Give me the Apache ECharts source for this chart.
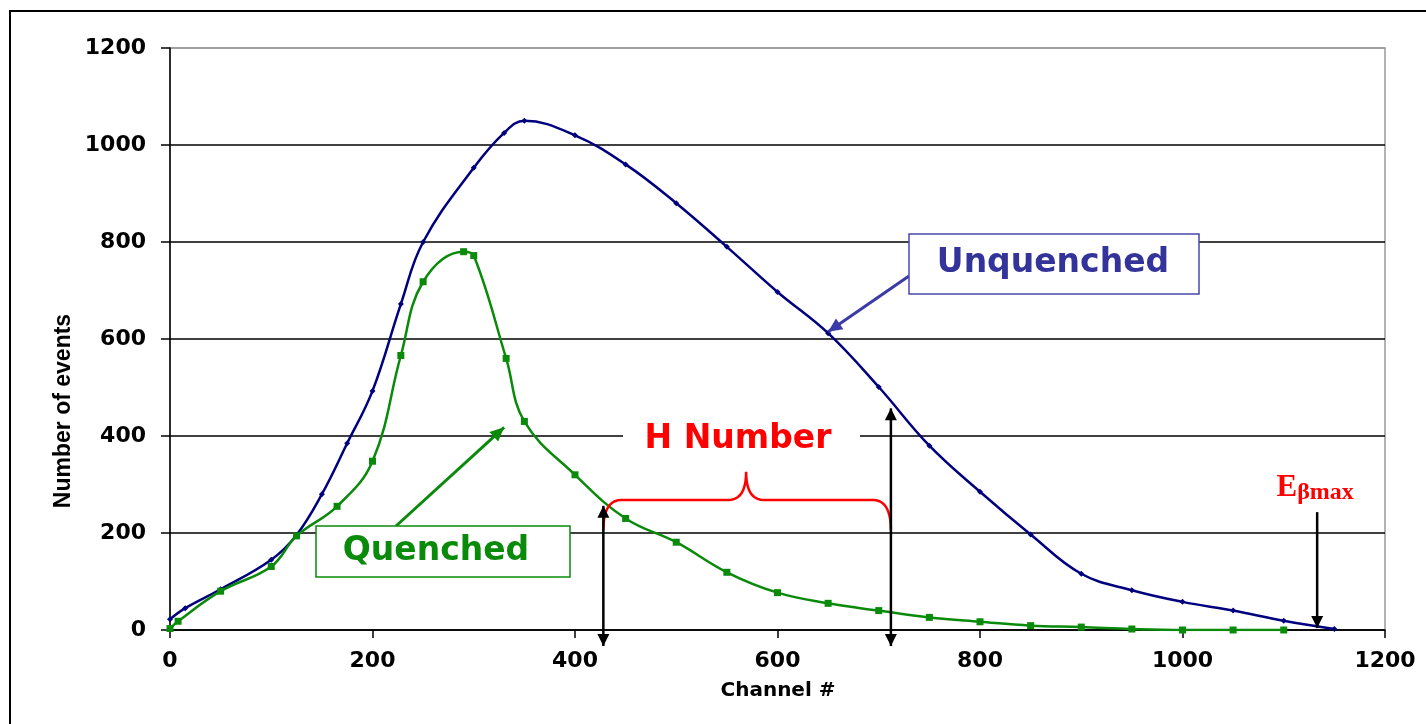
<!DOCTYPE html>
<html>
<head>
<meta charset="utf-8">
<script src="https://cdn.jsdelivr.net/npm/echarts@6/dist/echarts.min.js"></script>
<style>
  html, body { margin: 0; padding: 0; background: #fff; }
  #chart { width: 1426px; height: 724px; }
</style>
</head>
<body>
<div id="chart"></div>
<script>
// Spectrum counts per channel
const unquenchedChannels = [0, 15, 50, 100, 125, 150, 175, 200, 228, 250, 300, 330, 350, 400, 450, 500, 550, 600, 650, 700, 750, 800, 850, 900, 950, 1000, 1050, 1100, 1150];
const unquenchedCounts   = [22, 45, 84, 145, 196, 280, 385, 493, 672, 800, 953, 1025, 1050, 1020, 960, 880, 790, 697, 612, 501, 380, 285, 197, 116, 82, 58, 40, 19, 2];

const quenchedChannels = [0, 8, 50, 100, 125, 165, 200, 228, 250, 290, 300, 332, 350, 400, 450, 500, 550, 600, 650, 700, 750, 800, 850, 900, 950, 1000, 1050, 1100];
const quenchedCounts   = [3, 18, 80, 131, 194, 255, 348, 566, 718, 780, 772, 560, 430, 320, 230, 181, 119, 77, 55, 40, 26, 17, 9, 6, 2, 0, 0, 0];

// Axis ranges
const channelRange = [0, 1200];
const eventRange = [0, 1200];
const tickStep = 200;

// Annotation anchors, in data units (channel, events)
const hLow = 428, hHigh = 712;       // H number interval ends
const eBetaMax = 1133;               // end point of the spectrum

const NAVY = '#00007f';
const GREEN = '#0a8a0a';
const RED = '#ff0000';
const numFont = '"DejaVu Sans", sans-serif';

const chart = echarts.init(document.getElementById('chart'));

const pairs = (xs, ys) => xs.map((x, i) => [x, ys[i]]);

chart.setOption({
  animation: false,
  backgroundColor: '#fff',
  grid: {
    left: 170, right: 41, top: 48, bottom: 94,
    show: true, borderColor: '#9a9a9a', borderWidth: 1.5, backgroundColor: 'transparent'
  },
  xAxis: {
    type: 'value', min: channelRange[0], max: channelRange[1], interval: tickStep,
    axisLine: { show: true, onZero: false, lineStyle: { color: '#000', width: 1.5 } },
    axisTick: { show: true, length: 8, inside: false, lineStyle: { color: '#000', width: 1.5 } },
    axisLabel: { margin: 20, color: '#000', fontFamily: numFont, fontWeight: 'bold', fontSize: 22,
      formatter: v => String(v) },
    splitLine: { show: false }
  },
  yAxis: {
    type: 'value', min: eventRange[0], max: eventRange[1], interval: tickStep,
    axisLine: { show: true, onZero: false, lineStyle: { color: '#000', width: 1.5 } },
    axisTick: { show: true, length: 9, inside: false, lineStyle: { color: '#000', width: 1.5 } },
    axisLabel: { margin: 24, color: '#000', fontFamily: numFont, fontWeight: 'bold', fontSize: 22,
      formatter: v => String(v) },
    splitLine: {
      show: true,
      lineStyle: { color: ['#000', '#000', '#000', '#000', '#000', '#000', '#9a9a9a'], width: 1.5 }
    }
  },
  series: [
    {
      name: 'Unquenched', type: 'line', data: pairs(unquenchedChannels, unquenchedCounts),
      smooth: 0.4,
      symbol: 'diamond', symbolSize: 6, showSymbol: true,
      lineStyle: { color: NAVY, width: 2.5 }, itemStyle: { color: NAVY }, z: 3
    },
    {
      name: 'Quenched', type: 'line', data: pairs(quenchedChannels, quenchedCounts),
      smooth: 0.4,
      symbol: 'rect', symbolSize: 7, showSymbol: true,
      lineStyle: { color: GREEN, width: 2.5 }, itemStyle: { color: GREEN }, z: 4
    }
  ]
});

// ---- annotations ----
const P = (x, y) => chart.convertToPixel({ gridIndex: 0 }, [x, y]);

function arrowHead(tip, from, len, half, color) {
  const dx = tip[0] - from[0], dy = tip[1] - from[1];
  const d = Math.hypot(dx, dy) || 1;
  const ux = dx / d, uy = dy / d;
  const bx = tip[0] - ux * len, by = tip[1] - uy * len;
  return {
    type: 'polygon', z: 20,
    shape: { points: [tip, [bx - uy * half, by + ux * half], [bx + uy * half, by - ux * half]] },
    style: { fill: color }
  };
}
function arrow(from, tip, color, width, len, half, twoWay) {
  const els = [{
    type: 'line', z: 19,
    shape: { x1: from[0], y1: from[1], x2: tip[0], y2: tip[1] },
    style: { stroke: color, lineWidth: width }
  }];
  els.push(arrowHead(tip, from, len, half, color));
  if (twoWay) els.push(arrowHead(from, tip, len, half, color));
  return els;
}
function quad(p0, c, p1, n) {
  const pts = [];
  for (let i = 0; i <= n; i++) {
    const t = i / n, a = (1 - t) * (1 - t), b = 2 * (1 - t) * t, e = t * t;
    pts.push([a * p0[0] + b * c[0] + e * p1[0], a * p0[1] + b * c[1] + e * p1[1]]);
  }
  return pts;
}

const els = [];

// outer frame
els.push({ type: 'rect', z: 1, shape: { x: 10, y: 11, width: 1440, height: 740 },
  style: { fill: 'none', stroke: '#000', lineWidth: 2 } });

// axis titles
els.push({ type: 'text', z: 10, x: 64, y: 411, rotation: Math.PI / 2,
  style: { text: 'Number of events', fill: '#000', font: 'bold 23px "Liberation Sans", Arial, sans-serif',
    align: 'center', verticalAlign: 'middle' } });
els.push({ type: 'text', z: 10, x: 778, y: 691,
  style: { text: 'Channel #', fill: '#000', font: 'bold 20px "DejaVu Sans", sans-serif',
    align: 'center', verticalAlign: 'middle' } });

// double arrows marking the H number interval
{
  const lowTop = P(hLow, 256), lowBot = P(hLow, -33);
  els.push(...arrow(lowBot, lowTop, '#000', 2.5, 12, 6, true));
  const highTop = P(hHigh, 457), highBot = P(hHigh, -33);
  els.push(...arrow(highBot, highTop, '#000', 2.5, 12, 6, true));
}

// red brace over the interval
{
  const a = P(hLow, 206), b = P(hHigh, 206);
  const yTop = P(0, 268)[1], yTip = P(0, 326)[1];
  const xMid = P(569, 0)[0];
  const r = 18;
  let pts = [];
  pts = pts.concat(quad([a[0], a[1]], [a[0], yTop], [a[0] + r, yTop], 10));
  pts = pts.concat(quad([xMid - r, yTop], [xMid, yTop], [xMid, yTip], 10));
  pts = pts.concat(quad([xMid, yTip], [xMid, yTop], [xMid + r, yTop], 10));
  pts = pts.concat(quad([b[0] - r, yTop], [b[0], yTop], [b[0], b[1]], 10));
  els.push({ type: 'polyline', z: 18, shape: { points: pts },
    style: { stroke: RED, lineWidth: 2.5, fill: 'none' } });
}

// H Number label on a white patch over the grid line
{
  const c = P(561, 392);
  els.push({ type: 'rect', z: 15, shape: { x: 623, y: c[1] - 16, width: 237, height: 32 },
    style: { fill: '#fff' } });
  els.push({ type: 'text', z: 16, x: c[0], y: c[1],
    style: { text: 'H Number', fill: RED, font: 'bold 33px "DejaVu Sans", sans-serif',
      align: 'center', verticalAlign: 'middle' } });
}

// E beta max marker
{
  const top = P(eBetaMax, 243), tip = P(eBetaMax, 4);
  els.push(...arrow(top, tip, '#000', 2.5, 12, 6, false));
  const lab = P(1131, 293);
  els.push({ type: 'text', z: 16, x: lab[0], y: lab[1],
    style: {
      text: '{e|E}{s|βmax}', align: 'center', verticalAlign: 'middle',
      rich: {
        e: { fill: RED, fontFamily: '"Liberation Serif", serif', fontWeight: 'bold', fontSize: 31 },
        s: { fill: RED, fontFamily: '"Liberation Serif", serif', fontWeight: 'bold', fontSize: 24, padding: [9, 0, 0, 0] }
      }
    } });
}

// Unquenched callout
els.push(...arrow([909, 276], P(650, 615), '#3a3aa8', 3, 14, 6.5, false));
els.push({ type: 'rect', z: 21, shape: { x: 909, y: 234, width: 290, height: 60 },
  style: { fill: '#fff', stroke: '#4848b0', lineWidth: 1.5 } });
els.push({ type: 'text', z: 22, x: 1053, y: 263,
  style: { text: 'Unquenched', fill: '#333399', font: 'bold 33px "DejaVu Sans", sans-serif',
    align: 'center', verticalAlign: 'middle' } });

// Quenched callout
els.push(...arrow([396, 526], P(330, 418), GREEN, 3, 14, 6.5, false));
els.push({ type: 'rect', z: 21, shape: { x: 316, y: 526, width: 254, height: 51 },
  style: { fill: '#fff', stroke: GREEN, lineWidth: 1.5 } });
els.push({ type: 'text', z: 22, x: 436, y: 551,
  style: { text: 'Quenched', fill: GREEN, font: 'bold 33px "DejaVu Sans", sans-serif',
    align: 'center', verticalAlign: 'middle' } });

chart.setOption({ graphic: { elements: els } });
</script>
</body>
</html>
